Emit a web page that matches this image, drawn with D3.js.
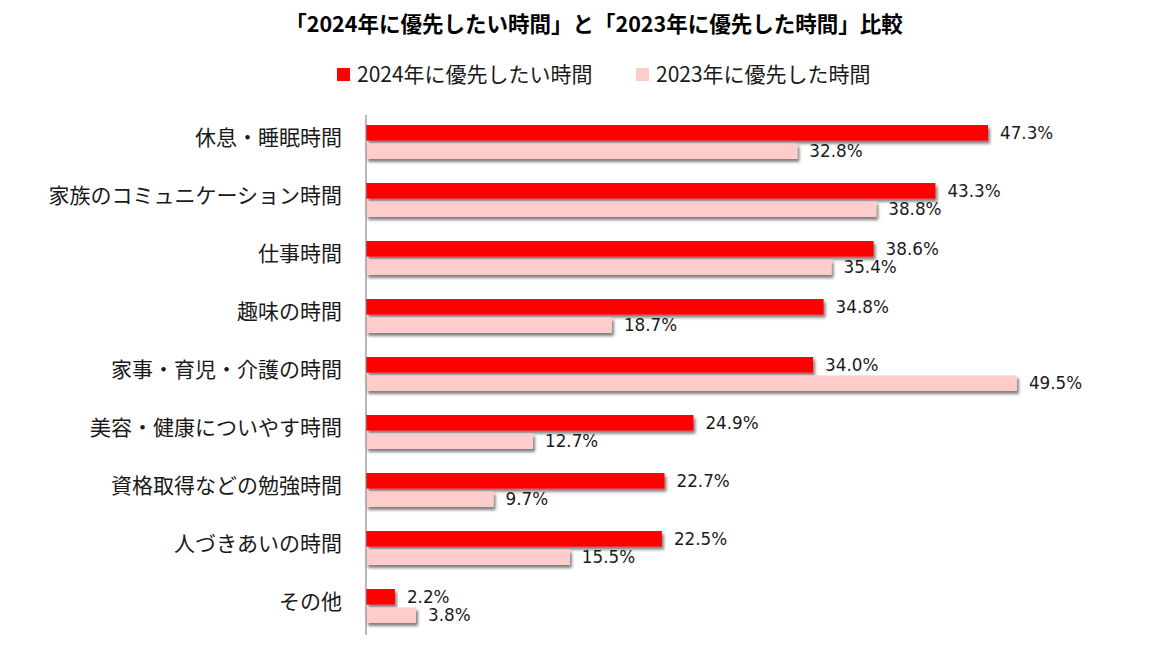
<!DOCTYPE html>
<html><head><meta charset="utf-8">
<script src="https://cdn.jsdelivr.net/npm/d3@7"></script>
<style>
body{margin:0;background:#fff;}
svg{display:block;}
</style></head>
<body>
<svg id="chart" width="1169" height="650"></svg>
<script>
const title = "「2024年に優先したい時間」と「2023年に優先した時間」比較";
const categories = ["休息・睡眠時間","家族のコミュニケーション時間","仕事時間","趣味の時間","家事・育児・介護の時間","美容・健康についやす時間","資格取得などの勉強時間","人づきあいの時間","その他"];
const seriesNames = ["2024年に優先したい時間","2023年に優先した時間"];
const values2024 = [47.3,43.3,38.6,34.8,34.0,24.9,22.7,22.5,2.2];
const values2023 = [32.8,38.8,35.4,18.7,49.5,12.7,9.7,15.5,3.8];
const colors = ["#FF0000","#FFCCCC"];

const svg = d3.select("#chart");
const jp = "'Noto Sans CJK JP','DejaVu Sans',sans-serif";
const num = "'DejaVu Sans','Noto Sans CJK JP',sans-serif";

const defs = svg.append("defs");
const f = defs.append("filter").attr("id","sh").attr("x","-5%").attr("y","-50%").attr("width","115%").attr("height","220%");
f.append("feDropShadow").attr("dx",2).attr("dy",3).attr("stdDeviation",1.6).attr("flood-color","#000").attr("flood-opacity",0.5);

const x = d3.scaleLinear().domain([0,50]).range([366,366+13.15*50]);
const y = d3.scaleBand().domain(categories).range([113,635]).paddingInner(0.414).paddingOuter(0.207);
const ys = d3.scaleBand().domain(seriesNames).range([0,y.bandwidth()]).paddingInner(0.15);

const data = categories.map((c,i)=>({cat:c, vals:[values2024[i],values2023[i]]}));

// title
svg.append("text").attr("x",594).attr("y",22).attr("text-anchor","middle").attr("dominant-baseline","central")
  .attr("font-family",jp).attr("font-weight","bold").attr("font-size",21.5).attr("fill","#000").text(title);

// legend
const legX = [337,636];
seriesNames.forEach((s,i)=>{
  svg.append("rect").attr("x",legX[i]).attr("y",68).attr("width",13).attr("height",13).attr("fill",colors[i]);
  svg.append("text").attr("x",legX[i]+20).attr("y",73).attr("dominant-baseline","central")
    .attr("font-family",jp).attr("font-size",21).attr("fill","#1a1a1a").text(s);
});

// bars
const g = svg.append("g");
const rows = g.selectAll("g.row").data(data).join("g").attr("class","row")
  .attr("transform",d=>`translate(0,${y(d.cat)})`);
rows.selectAll("rect").data(d=>d.vals.map((v,i)=>({v,s:seriesNames[i],i})))
  .join("rect")
  .attr("x",x(0)).attr("y",d=>ys(d.s)).attr("width",d=>x(d.v)-x(0)).attr("height",ys.bandwidth())
  .attr("fill",d=>colors[d.i]).attr("filter","url(#sh)");
rows.selectAll("text.val").data(d=>d.vals.map((v,i)=>({v,s:seriesNames[i],i})))
  .join("text").attr("class","val")
  .attr("x",d=>x(d.v)+12).attr("y",d=>ys(d.s)+ys.bandwidth()/2).attr("dominant-baseline","central")
  .attr("font-family",num).attr("font-size",16.8).attr("fill","#1a1a1a").text(d=>d.v.toFixed(1)+"%");

// axis
const axis = svg.append("g").attr("transform",`translate(${x(0)},0)`)
  .call(d3.axisLeft(y).tickSize(0).tickPadding(24));
axis.select(".domain").attr("stroke","#888").attr("stroke-width",1.2).attr("d","M0,115V635");
axis.selectAll(".tick text").attr("font-family",jp).attr("font-size",21).attr("fill","#1a1a1a").attr("dy","-0.05em")
  .attr("dominant-baseline","central").attr("y",-5);
</script>
</body></html>
